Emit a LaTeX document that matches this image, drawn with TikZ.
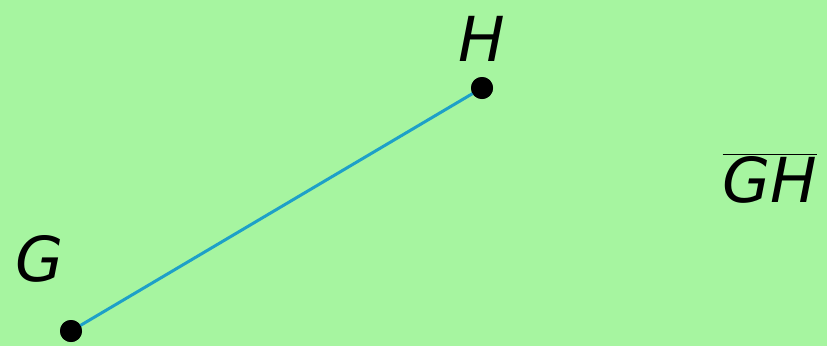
\documentclass[tikz,border=0pt]{standalone}
\usepackage{fontspec}
\setmainfont{DejaVu Sans}
\definecolor{bg}{HTML}{A6F5A0}
\definecolor{seg}{HTML}{1EA0C8}
\tikzset{
  dot/.style={circle,fill=black,inner sep=0pt,minimum size=22pt},
  lbl/.style={font=\fontsize{62}{70}\selectfont\itshape,inner sep=0pt,text=black},
}
\begin{document}
\begin{tikzpicture}[x=1pt,y=-1pt]
\fill[bg] (0,0) rectangle (827,346);
\useasboundingbox (0,0) rectangle (827,346);
\node[dot] (G) at (71,331) {};
\node[dot] (H) at (482,88) {};
\draw[seg,line width=3pt] (G.center) -- (H.center);
\node[dot] at (71,331) {};
\node[dot] at (482,88) {};
\node[lbl] (lG) at (40,259) {G};
\node[lbl] (lH) at (482,39) {H};
\node[lbl,anchor=base] (lGH) at (770,202) {$\overline{\mbox{\itshape GH}}$};
\end{tikzpicture}
\end{document}
